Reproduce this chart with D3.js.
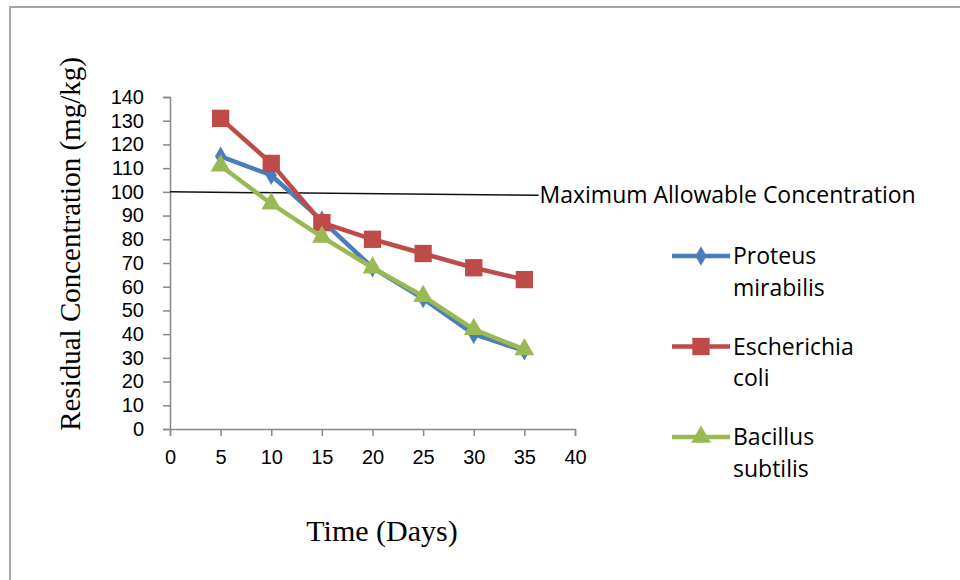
<!DOCTYPE html>
<html>
<head>
<meta charset="utf-8">
<script src="https://cdn.jsdelivr.net/npm/d3@7"></script>
<style>
  body { margin: 0; background: #fff; }
  .tick text { font-family: "Liberation Sans", Arial, sans-serif; font-size: 20px; fill: #000; }
  .axis path, .axis line { stroke: #888; stroke-width: 1.5; }
</style>
</head>
<body>
<div id="chart"></div>
<script>
// Data
const days = [5, 10, 15, 20, 25, 30, 35];
const proteus = [115, 107, 88, 68, 55, 40, 33];
const ecoli = [131, 112, 87, 80, 74, 68, 63];
const bacillus = [111, 95, 81, 68, 56, 42, 33.5];
const maxLine = [[0, 100], [36.4, 98.6]];
const maxLabel = "Maximum Allowable Concentration";
const xTicks = [0, 5, 10, 15, 20, 25, 30, 35, 40];
const yTicks = d3.range(0, 141, 10);

const series = [
    { name: ["Proteus", "mirabilis"], values: proteus, color: "#4a7ebb", symbol: d3.symbolDiamond, size: 110 },
    { name: ["Escherichia", "coli"], values: ecoli, color: "#be4b48", symbol: d3.symbolSquare, size: 300 },
    { name: ["Bacillus", "subtilis"], values: bacillus, color: "#98b954", symbol: d3.symbolTriangle, size: 170 }
];

const width = 960;
const height = 580;

const svg = d3.select("#chart").append("svg")
    .attr("width", width)
    .attr("height", height);

// outer frame
svg.append("rect")
    .attr("x", 10).attr("y", 7)
    .attr("width", 1000).attr("height", 700)
    .attr("fill", "none")
    .attr("stroke", "#a6a6a6")
    .attr("stroke-width", 2);

const x = d3.scaleLinear().domain([0, 40]).range([170, 575]);
const y = d3.scaleLinear().domain([0, 140]).range([429, 97]);

// axes
svg.append("g")
    .attr("class", "axis")
    .attr("transform", `translate(0,${y(0)})`)
    .call(d3.axisBottom(x).tickValues(xTicks).tickSize(7).tickPadding(14))
    .selectAll("text").attr("dy", "0.71em");

svg.append("g")
    .attr("class", "axis")
    .attr("transform", `translate(${x(0)},0)`)
    .call(d3.axisLeft(y).tickValues(yTicks).tickSize(7).tickPadding(19));

// maximum allowable concentration line
svg.append("path")
    .datum(maxLine)
    .attr("fill", "none")
    .attr("stroke", "#111")
    .attr("stroke-width", 1.5)
    .attr("d", d3.line().x(d => x(d[0])).y(d => y(d[1])));

svg.append("text")
    .attr("x", x(maxLine[1][0]) + 1)
    .attr("y", y(maxLine[1][1]))
    .attr("dy", "0.35em")
    .attr("font-family", "Open Sans, sans-serif")
    .attr("font-size", 23)
    .text(maxLabel);

// series
const line = d3.line().x((d, i) => x(days[i])).y(d => y(d));

series.forEach(s => {
    const g = svg.append("g");
    g.append("path")
        .datum(s.values)
        .attr("fill", "none")
        .attr("stroke", s.color)
        .attr("stroke-width", 4.5)
        .attr("stroke-linejoin", "round")
        .attr("d", line);
    g.selectAll("path.marker")
        .data(s.values)
        .join("path")
            .attr("class", "marker")
            .attr("fill", s.color)
            .attr("transform", (d, i) => `translate(${x(days[i])},${y(d)})`)
            .attr("d", d3.symbol().type(s.symbol).size(s.size));
});

// legend
const legend = svg.append("g");
series.forEach((s, i) => {
    const ly = 256 + i * 90.5;
    const g = legend.append("g").attr("transform", `translate(0,${ly})`);
    g.append("line")
        .attr("x1", 672).attr("x2", 730)
        .attr("stroke", s.color)
        .attr("stroke-width", 4.5);
    g.append("path")
        .attr("transform", "translate(701,0)")
        .attr("fill", s.color)
        .attr("d", d3.symbol().type(s.symbol).size(s.size));
    s.name.forEach((t, j) => {
        g.append("text")
            .attr("x", 733)
            .attr("y", j * 31.5)
            .attr("dy", "0.35em")
            .attr("font-family", "Open Sans, sans-serif")
            .attr("font-size", 23)
            .text(t);
    });
});

// axis titles
svg.append("text")
    .attr("x", 382)
    .attr("y", 541)
    .attr("text-anchor", "middle")
    .attr("font-family", "Liberation Serif, Times New Roman, serif")
    .attr("font-size", 30)
    .text("Time (Days)");

svg.append("text")
    .attr("transform", "translate(80,244) rotate(-90)")
    .attr("text-anchor", "middle")
    .attr("font-family", "Liberation Serif, Times New Roman, serif")
    .attr("font-size", 29)
    .text("Residual Concentration (mg/kg)");
</script>
</body>
</html>
